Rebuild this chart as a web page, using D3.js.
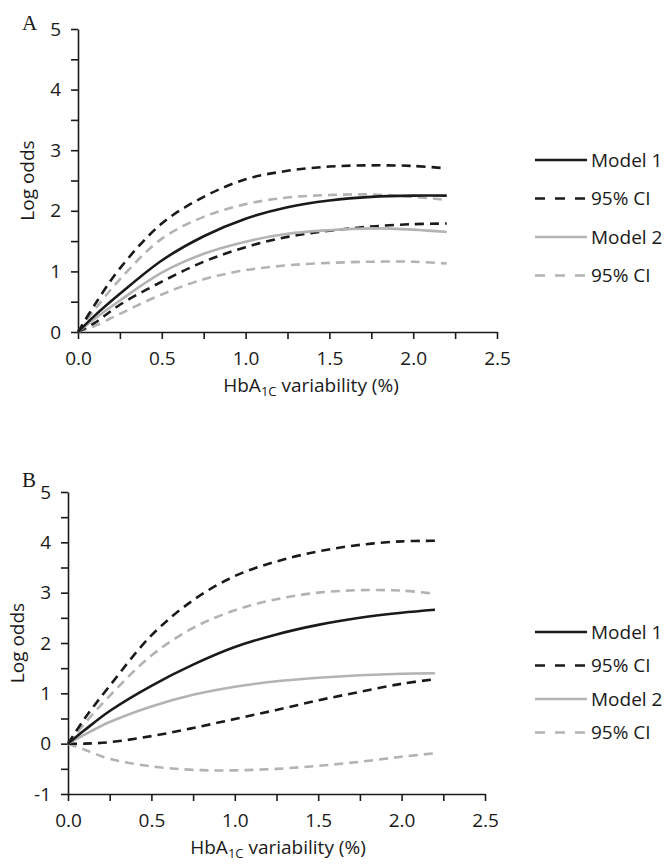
<!DOCTYPE html>
<html>
<head>
<meta charset="utf-8">
<script src="https://cdn.jsdelivr.net/npm/d3@7"></script>
<style>
  body { margin: 0; background: #fff; }
  svg text { font-family: "Open Sans", sans-serif; fill: #1a1a1a; }
  .axis path, .axis line { stroke: #1a1a1a; stroke-width: 1.6px; }
  .axis text { font-size: 19px; }
</style>
</head>
<body>
<script>
var xs = [0, 0.1, 0.25, 0.5, 0.75, 1.0, 1.25, 1.5, 1.75, 2.0, 2.2];

// Panel A
var aModel1   = [0, 0.27, 0.63, 1.18, 1.58, 1.87, 2.06, 2.17, 2.23, 2.25, 2.25];
var aModel1Up = [0, 0.45, 1.05, 1.79, 2.23, 2.52, 2.66, 2.73, 2.75, 2.74, 2.70];
var aModel1Lo = [0, 0.15, 0.45, 0.83, 1.16, 1.40, 1.57, 1.67, 1.74, 1.78, 1.79];
var aModel2   = [0, 0.22, 0.52, 0.98, 1.29, 1.49, 1.62, 1.68, 1.71, 1.69, 1.65];
var aModel2Up = [0, 0.37, 0.87, 1.54, 1.90, 2.11, 2.22, 2.26, 2.27, 2.23, 2.18];
var aModel2Lo = [0, 0.10, 0.30, 0.62, 0.87, 1.02, 1.10, 1.14, 1.16, 1.16, 1.13];

// Panel B
var bModel1   = [0, 0.27, 0.65, 1.15, 1.57, 1.92, 2.17, 2.36, 2.50, 2.60, 2.66];
var bModel1Up = [0, 0.50, 1.15, 2.15, 2.85, 3.33, 3.62, 3.82, 3.95, 4.02, 4.03];
var bModel1Lo = [0, 0.00, 0.03, 0.15, 0.31, 0.49, 0.67, 0.86, 1.03, 1.19, 1.28];
var bModel2   = [0, 0.18, 0.43, 0.74, 0.97, 1.13, 1.24, 1.31, 1.36, 1.39, 1.40];
var bModel2Up = [0, 0.40, 0.95, 1.75, 2.30, 2.65, 2.87, 3.00, 3.05, 3.04, 2.98];
var bModel2Lo = [0, -0.12, -0.30, -0.45, -0.52, -0.53, -0.50, -0.44, -0.36, -0.26, -0.19];

var legendLabels = ["Model 1", "95% CI", "Model 2", "95% CI"];
var xTicks = [0, 0.5, 1.0, 1.5, 2.0, 2.5];
var xMinorTicks = [0.25, 0.75, 1.25, 1.75, 2.25];

var black = "#1a1a1a", grey = "#b3b3b3";
var styles = [
  {color: black, dash: null},
  {color: black, dash: "9,6"},
  {color: grey,  dash: null},
  {color: grey,  dash: "9,6"}
];

var svg = d3.select("body").append("svg")
    .attr("width", 667)
    .attr("height", 865);

var panels = [
  {label: "A", series: [aModel1, aModel1Up, aModel1Lo, aModel2, aModel2Up, aModel2Lo],
   x0: 78, x1: 497, yTop: 29, yBot: 332, yDomain: [0, 5],
   labelPos: [22, 30], yTitleX: 34, titleX: 311, titleY: 392,
   legendX: 535, legendY: 160, legendStep: 38.5},
  {label: "B", series: [bModel1, bModel1Up, bModel1Lo, bModel2, bModel2Up, bModel2Lo],
   x0: 68, x1: 485, yTop: 492, yBot: 794, yDomain: [-1, 5],
   labelPos: [22, 487], yTitleX: 24, titleX: 278, titleY: 854,
   legendX: 535, legendY: 632, legendStep: 33.5}
];

panels.forEach(function(p){
    var g = svg.append("g");

    var x = d3.scaleLinear().domain([0, 2.5]).range([p.x0, p.x1]);
    var y = d3.scaleLinear().domain(p.yDomain).range([p.yBot, p.yTop]);

    var yTicks = d3.range(p.yDomain[0], p.yDomain[1] + 1, 1);
    var yMinor = d3.range(p.yDomain[0] + 0.5, p.yDomain[1], 1);

    // minor ticks first, then the labelled axes on top
    g.append("g").attr("class", "axis")
        .attr("transform", "translate(0," + p.yBot + ")")
        .call(d3.axisBottom(x).tickValues(xMinorTicks).tickFormat("").tickSize(7).tickSizeOuter(0))
        .select(".domain").remove();
    g.append("g").attr("class", "axis")
        .attr("transform", "translate(" + x(0) + ",0)")
        .call(d3.axisLeft(y).tickValues(yMinor).tickFormat("").tickSize(7).tickSizeOuter(0))
        .select(".domain").remove();

    g.append("g").attr("class", "axis")
        .attr("transform", "translate(0," + p.yBot + ")")
        .call(d3.axisBottom(x).tickValues(xTicks).tickFormat(d3.format(".1f")).tickSize(7).tickSizeOuter(0).tickPadding(13));

    // plain hyphen for negatives, like the original
    g.append("g").attr("class", "axis")
        .attr("transform", "translate(" + x(0) + ",0)")
        .call(d3.axisLeft(y).tickValues(yTicks).tickFormat(function(d){ return String(d); }).tickSize(7).tickSizeOuter(0).tickPadding(10));

    // curves
    var line = d3.line()
        .x(function(d){ return x(d[0]); })
        .y(function(d){ return y(d[1]); })
        .curve(d3.curveCatmullRom.alpha(0.5));

    // series order: m1, m1 up, m1 lo, m2, m2 up, m2 lo  -> [series, style]
    var drawOrder = [[5, 3], [4, 3], [2, 1], [1, 1], [3, 2], [0, 0]];
    drawOrder.forEach(function(o){
        var vals = p.series[o[0]];
        var st = styles[o[1]];
        g.append("path")
            .datum(xs.map(function(v, i){ return [v, vals[i]]; }))
            .attr("fill", "none")
            .attr("stroke", st.color)
            .attr("stroke-width", 2.6)
            .attr("stroke-dasharray", st.dash)
            .attr("d", line);
    });

    // panel letter
    g.append("text")
        .attr("x", p.labelPos[0]).attr("y", p.labelPos[1])
        .style("font-family", "'Liberation Serif', 'Times New Roman', serif")
        .style("font-size", "21px")
        .text(p.label);

    // y title
    g.append("text")
        .attr("transform", "translate(" + p.yTitleX + "," + ((p.yTop + p.yBot) / 2) + ") rotate(-90)")
        .attr("text-anchor", "middle")
        .style("font-size", "19px")
        .text("Log odds");

    // x title with subscript
    var t = g.append("text")
        .attr("x", p.titleX).attr("y", p.titleY)
        .attr("text-anchor", "middle")
        .style("font-size", "19px");
    t.append("tspan").text("HbA");
    t.append("tspan").attr("dy", 4).style("font-size", "13px").text("1C");
    t.append("tspan").attr("dy", -4).text(" variability (%)");

    // legend
    var leg = g.append("g").attr("transform", "translate(" + p.legendX + "," + p.legendY + ")");
    legendLabels.forEach(function(lab, i){
        var row = leg.append("g").attr("transform", "translate(0," + i * p.legendStep + ")");
        row.append("line")
            .attr("x1", 0).attr("x2", 52).attr("y1", 0).attr("y2", 0)
            .attr("stroke", styles[i].color)
            .attr("stroke-width", 2.6)
            .attr("stroke-dasharray", styles[i].dash ? "10,10" : null);
        row.append("text")
            .attr("x", 56).attr("y", 6.5)
            .style("font-size", "19px")
            .text(lab);
    });
});
</script>
</body>
</html>
